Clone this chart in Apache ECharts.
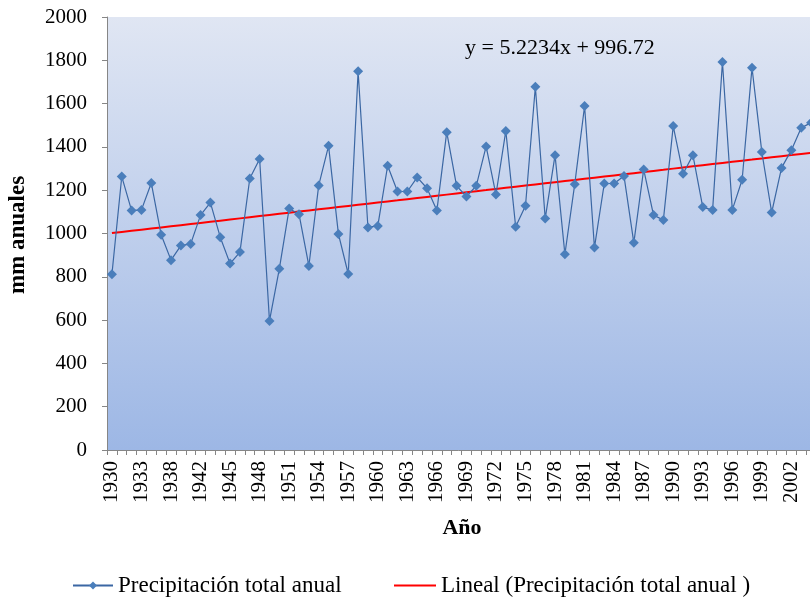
<!DOCTYPE html>
<html>
<head>
<meta charset="utf-8">
<script src="https://cdn.jsdelivr.net/npm/echarts@6/dist/echarts.min.js"></script>
<style>
  html, body { margin: 0; padding: 0; background: #ffffff; }
  #chart { width: 810px; height: 598px; }
</style>
</head>
<body>
<div id="chart"></div>
<script>
// Annual precipitation record (mm per year)
const years = [
  '1930','1931','1932','1933','1935','1937','1938','1940','1941',
  '1942','1943','1944','1945','1946','1947','1948','1949','1950',
  '1951','1952','1953','1954','1955','1956','1957','1958','1959',
  '1960','1961','1962','1963','1964','1965','1966','1967','1968',
  '1969','1970','1971','1972','1973','1974','1975','1976','1977',
  '1978','1979','1980','1981','1982','1983','1984','1985','1986',
  '1987','1988','1989','1990','1991','1992','1993','1994','1995',
  '1996','1997','1998','1999','2000','2001','2002','2003','2004'
];

const precipitation = [
  812, 1263, 1106, 1109, 1233, 994, 877, 944, 952,
  1085, 1143, 983, 861, 914, 1254, 1344, 596, 837,
  1115, 1089, 850, 1222, 1405, 998, 813, 1749, 1028,
  1035, 1313, 1194, 1194, 1259, 1209, 1106, 1468, 1220,
  1171, 1220, 1402, 1180, 1474, 1031, 1128, 1678, 1069,
  1362, 904, 1228, 1589, 935, 1231, 1231, 1266, 957,
  1296, 1085, 1062, 1496, 1276, 1362, 1122, 1108, 1792,
  1109, 1248, 1766, 1376, 1097, 1303, 1385, 1488, 1512
];

// Linear trend: y = 5.2234x + 996.72, x = position in the series (1-based)
const trendSlope = 5.2234;
const trendIntercept = 996.72;
const trendLabel = 'y = 5.2234x + 996.72';
const trend = precipitation.map((_, i) => +(trendSlope * (i + 1) + trendIntercept).toFixed(2));

const yTicks = { min: 0, max: 2000, step: 200 };

const seriesName = 'Precipitación total anual';
const trendName = 'Lineal (Precipitación total anual )';

const serif = '"Liberation Serif", "DejaVu Serif", serif';

const chart = echarts.init(document.getElementById('chart'), null, { renderer: 'canvas' });

const legendText = { fontFamily: serif, fontSize: 23, color: '#000000' };

chart.setOption({
  animation: false,
  textStyle: { fontFamily: serif },
  grid: {
    left: 107,
    top: 17,
    width: 709,
    height: 433,
    outerBoundsMode: 'none',
    containLabel: false,
    show: true,
    borderWidth: 0,
    backgroundColor: new echarts.graphic.LinearGradient(0, 0, 0, 1, [
      { offset: 0, color: '#e0e6f3' },
      { offset: 1, color: '#9db7e5' }
    ])
  },
  xAxis: {
    type: 'category',
    data: years,
    boundaryGap: true,
    axisLine: { lineStyle: { color: '#868686', width: 1 } },
    axisTick: { show: true, interval: 0, length: 5, lineStyle: { color: '#868686' } },
    axisLabel: {
      interval: 2,
      rotate: 90,
      margin: 11,
      color: '#000000',
      fontFamily: serif,
      fontSize: 21
    },
    splitLine: { show: false }
  },
  yAxis: {
    type: 'value',
    min: yTicks.min,
    max: yTicks.max,
    interval: yTicks.step,
    axisLine: { show: true, lineStyle: { color: '#868686', width: 1 } },
    axisTick: { show: true, length: 5, lineStyle: { color: '#868686' } },
    axisLabel: {
      margin: 20,
      color: '#000000',
      fontFamily: serif,
      fontSize: 21,
      formatter: (v) => String(v)
    },
    splitLine: { show: false }
  },
  legend: [
    {
      left: 67,
      top: 569,
      itemWidth: 40,
      itemHeight: 10,
      textStyle: legendText,
      data: [{ name: seriesName }]
    },
    {
      left: 388,
      top: 569,
      itemWidth: 42,
      itemHeight: 10,
      textStyle: legendText,
      data: [{ name: trendName, itemStyle: { opacity: 0 } }]
    }
  ],
  graphic: [
    {
      type: 'text',
      left: 465,
      top: 37,
      style: { text: trendLabel, font: '22px ' + serif, fill: '#000000' }
    },
    {
      type: 'text',
      x: 462,
      y: 528,
      style: {
        text: 'Año',
        font: 'bold 22px ' + serif,
        fill: '#000000',
        align: 'center',
        verticalAlign: 'middle'
      }
    },
    {
      type: 'text',
      x: 18,
      y: 235,
      rotation: Math.PI / 2,
      style: {
        text: 'mm anuales',
        font: 'bold 23px ' + serif,
        fill: '#000000',
        align: 'center',
        verticalAlign: 'middle'
      }
    }
  ],
  series: [
    {
      name: seriesName,
      type: 'line',
      data: precipitation,
      symbol: 'diamond',
      symbolSize: 10,
      showAllSymbol: true,
      lineStyle: { color: '#3b67a3', width: 1.2 },
      itemStyle: { color: '#4a7ebb', borderWidth: 0 },
      z: 3
    },
    {
      name: trendName,
      type: 'line',
      data: trend,
      symbol: 'none',
      lineStyle: { color: '#ff0000', width: 2 },
      itemStyle: { color: '#ff0000' },
      z: 2
    }
  ]
});
</script>
</body>
</html>
